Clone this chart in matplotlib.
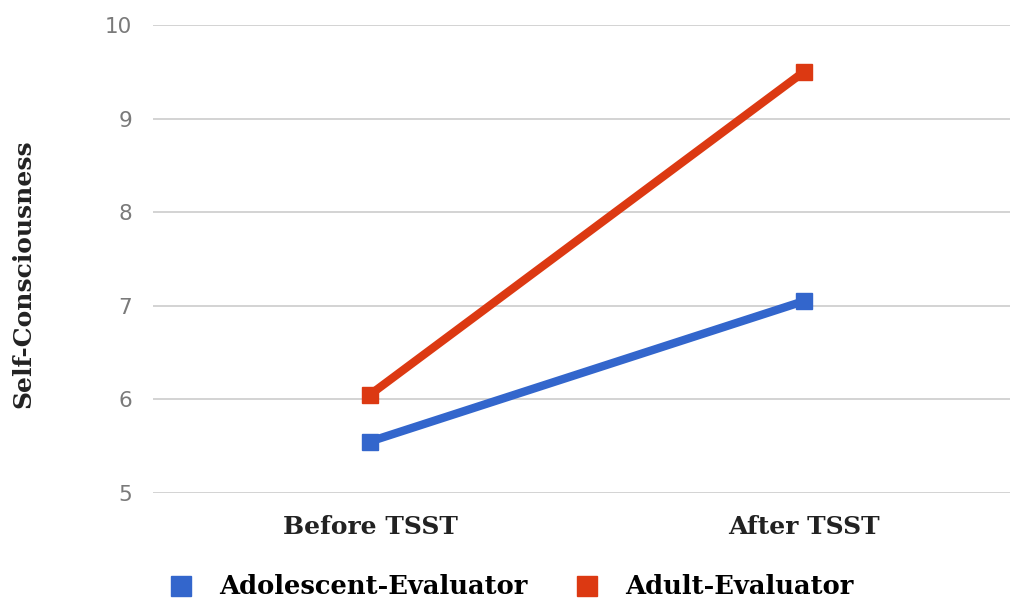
import matplotlib.pyplot as plt
from matplotlib.lines import Line2D

categories = ['Before TSST', 'After TSST']
adolescent = [5.55, 7.05]
adult = [6.05, 9.5]
yticks = [5, 6, 7, 8, 9, 10]

blue = '#3366cc'
red = '#dc3912'
serif = ['DejaVu Serif']

fig = plt.figure(figsize=(10.14, 6.04), dpi=100)
ax = fig.add_axes([153/1014, 1 - 493/604, (1010-153)/1014, (493-25)/604])

x = range(len(categories))
ax.plot(x, adolescent, color=blue, lw=6, marker='s', ms=11.5, solid_capstyle='butt', zorder=3)
ax.plot(x, adult, color=red, lw=6, marker='s', ms=11.5, solid_capstyle='butt', zorder=3)

ax.set_xlim(-0.5, 1.475)
ax.set_ylim(5, 10)
ax.set_yticks(yticks)
ax.set_yticklabels([str(v) for v in yticks], color='#7a7a7a', fontsize=15.5, family='DejaVu Sans')
ax.set_xticks(list(x))
ax.set_xticklabels(categories, fontsize=18, fontweight='bold', family=serif, color='#222222')
ax.tick_params(axis='y', length=0, pad=15)
ax.tick_params(axis='x', length=0, pad=16)
ax.grid(axis='y', color='#cccccc', lw=1.2)
for s in ax.spines.values():
    s.set_visible(False)

ax.set_ylabel('Self-Consciousness', fontsize=18, fontweight='bold', family=serif, color='#222222')
ax.yaxis.set_label_coords(-118/857, 0.468)

handles = [Line2D([], [], ls='none', marker='s', ms=14, color=blue),
           Line2D([], [], ls='none', marker='s', ms=14, color=red)]
fig.legend(handles, ['Adolescent-Evaluator', 'Adult-Evaluator'], loc='center left',
           bbox_to_anchor=(145/1014, 1 - 587/604), ncol=2, frameon=False,
           prop={'family': serif, 'weight': 'bold', 'size': 18.5},
           handletextpad=1.0, columnspacing=1.8, handlelength=1.0)

fig.savefig('out.png', dpi=100)
